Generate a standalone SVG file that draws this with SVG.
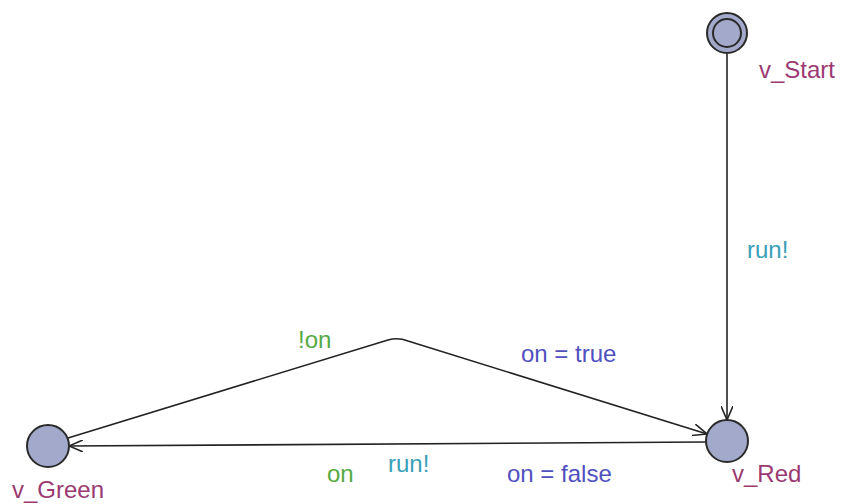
<svg xmlns="http://www.w3.org/2000/svg" width="843" height="504" viewBox="0 0 843 504">
<style>
.loc{fill:#a3a9cb;stroke:#2a2a2a;stroke-width:2}
.edge{fill:none;stroke:#222;stroke-width:1.6}
text{font-family:"Liberation Sans",Arial,sans-serif;font-size:24px}
.name{fill:#9b3a72}
.sync{fill:#3aa0b8}
.guard{fill:#55aa44}
.upd{fill:#5050c0}
</style>
<defs>
<marker id="arr" viewBox="0 0 14 12" refX="14" refY="6" markerWidth="14" markerHeight="12" markerUnits="userSpaceOnUse" orient="auto">
<path d="M0,0 L14,6 L0,12" fill="none" stroke="#222" stroke-width="1.6"/>
</marker>
</defs>
<rect width="843" height="504" fill="#fff"/>
<g id="connectors">
<path class="edge" d="M727,54 L727,420" marker-end="url(#arr)"/>
<path class="edge" d="M706,442 L69,446" marker-end="url(#arr)"/>
<path class="edge" d="M68,438 L388,340 Q398,337 408,341 L707,434" marker-end="url(#arr)"/>
</g>
<g id="v_Start">
<circle class="loc" cx="727" cy="33" r="20"/>
<circle cx="727" cy="33" r="14" fill="none" stroke="#2a2a2a" stroke-width="2"/>
<text class="name" x="759" y="78">v_Start</text>
</g>
<g id="v_Red">
<circle class="loc" cx="727" cy="441" r="21"/>
<text class="name" x="732" y="482">v_Red</text>
</g>
<g id="v_Green">
<circle class="loc" cx="48" cy="446" r="21"/>
<text class="name" x="12" y="498">v_Green</text>
</g>
<g id="labels">
<text class="sync" x="747" y="258">run!</text>
<text class="guard" x="298" y="348">!on</text>
<text class="upd" x="521" y="362">on = true</text>
<text class="guard" x="327" y="482">on</text>
<text class="sync" x="388" y="472">run!</text>
<text class="upd" x="507" y="482">on = false</text>
</g>
</svg>
